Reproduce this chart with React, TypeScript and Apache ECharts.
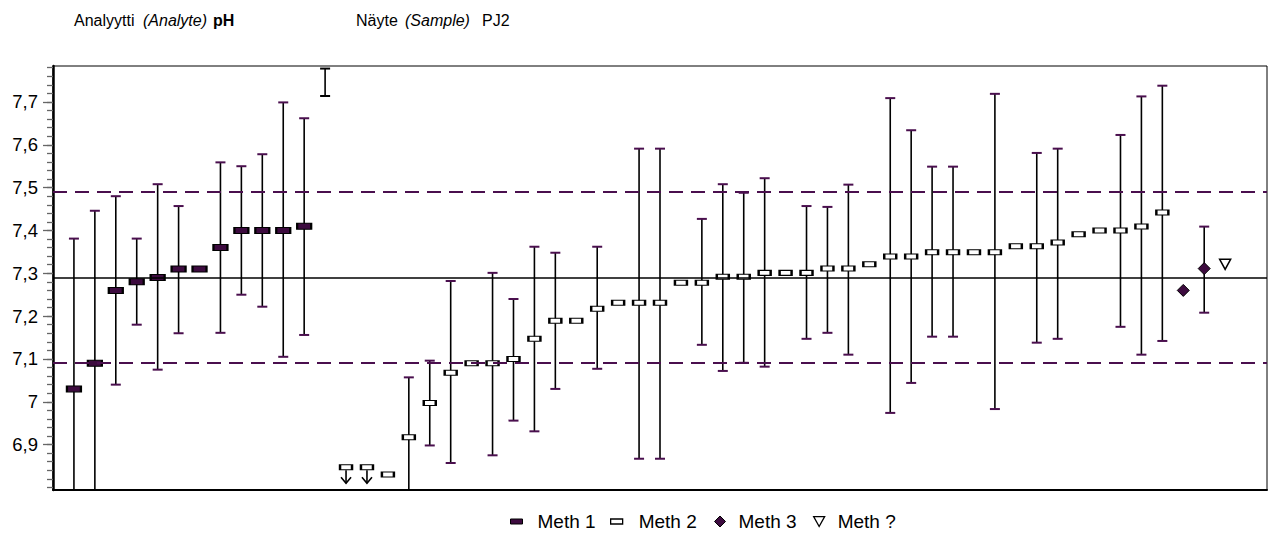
import React, { useEffect, useRef } from 'react';
import * as echarts from 'echarts';

const FONT = '"Liberation Sans", Arial, Helvetica, sans-serif';
const PURPLE = '#4a0f4e';
const FILL1 = '#3d0b3f';

// reference values
const ASSIGNED = 7.29;
const LOWER_LIMIT = 7.09;
const UPPER_LIMIT = 7.49;

// axis
const Y_MIN = 6.794;
const Y_MAX = 7.784;
const X_MAX = 58;
const Y_LABEL_MIN = 6.9;
const Y_LABEL_MAX = 7.7;
const Y_MINOR_MIN = 6.8;
const Y_MINOR_MAX = 7.78;

// results (lab order number = position in sequence)
const meth1Labs = [1, 2, 3, 4, 5, 6, 7, 8, 9, 10, 11, 12];
const meth1Values = [7.03, 7.09, 7.26, 7.28, 7.29, 7.31, 7.31, 7.36, 7.4, 7.4, 7.4, 7.41];

const meth2Labs = [14, 15, 16, 17, 18, 19, 20, 21, 22, 23, 24, 25, 26, 27, 28, 29, 30, 31, 32, 33, 34, 35, 36, 37, 38, 39, 40, 41, 42, 43, 44, 45, 46, 47, 48, 49, 50, 51, 52, 53];
const meth2Values = [6.847, 6.847, 6.83, 6.917, 6.997, 7.068, 7.09, 7.09, 7.1, 7.147, 7.189, 7.189, 7.217, 7.231, 7.231, 7.231, 7.278, 7.278, 7.292, 7.292, 7.301, 7.301, 7.301, 7.311, 7.311, 7.321, 7.339, 7.339, 7.349, 7.349, 7.349, 7.349, 7.363, 7.363, 7.372, 7.391, 7.4, 7.4, 7.409, 7.442];

const meth3Labs = [54, 55];
const meth3Values = [7.26, 7.311];

const methUnknownLabs = [56];
const methUnknownValues = [7.321];

// "<" results (below reporting limit)
const belowLimitLabs = [14, 15];
const belowLimitValues = [6.847, 6.847];
const ARROW_END = 6.81;

// uncertainty ranges
const errorLabs = [1, 2, 3, 4, 5, 6, 8, 9, 10, 11, 12, 17, 18, 19, 21, 22, 23, 24, 26, 28, 29, 31, 32, 33, 34, 36, 37, 38, 40, 41, 42, 43, 45, 47, 48, 51, 52, 53, 55];
const errorLow = [6.68, 6.74, 7.04, 7.18, 7.075, 7.16, 7.161, 7.25, 7.222, 7.105, 7.156, 6.78, 6.898, 6.857, 6.875, 6.956, 6.931, 7.03, 7.077, 6.867, 6.867, 7.133, 7.072, 7.091, 7.082, 7.147, 7.161, 7.11, 6.974, 7.044, 7.152, 7.152, 6.983, 7.138, 7.147, 7.175, 7.11, 7.142, 7.208];
const errorHigh = [7.381, 7.446, 7.48, 7.381, 7.508, 7.457, 7.559, 7.55, 7.578, 7.699, 7.662, 7.057, 7.096, 7.282, 7.301, 7.24, 7.362, 7.348, 7.362, 7.591, 7.591, 7.427, 7.508, 7.488, 7.522, 7.457, 7.455, 7.507, 7.709, 7.634, 7.549, 7.549, 7.719, 7.581, 7.591, 7.623, 7.713, 7.738, 7.409];

// range without a plotted result
const rangeOnlyLabs = [13];
const rangeOnlyLow = [7.714];
const rangeOnlyHigh = [7.778];

const GRID_LEFT = 53;
const GRID_TOP = 66;
const GRID_H = 424;
const GRID_RIGHT = 6;
const pix = (v: number) => GRID_TOP + ((Y_MAX - v) * GRID_H) / (Y_MAX - Y_MIN);

const TRI = 'path://M0,0L10,0L5,9Z';

function errorRenderer(capColor: string) {
  return (params: any, api: any) => {
    const x = api.value(0);
    const top = api.coord([x, api.value(2)]);
    const bot = api.coord([x, api.value(1)]);
    const c = 5;
    return {
      type: 'group',
      children: [
        { type: 'line', shape: { x1: top[0], y1: top[1], x2: bot[0], y2: bot[1] }, style: { stroke: '#000', lineWidth: 1.6 } },
        { type: 'line', shape: { x1: top[0] - c, y1: top[1], x2: top[0] + c, y2: top[1] }, style: { stroke: capColor, lineWidth: 2 } },
        { type: 'line', shape: { x1: bot[0] - c, y1: bot[1], x2: bot[0] + c, y2: bot[1] }, style: { stroke: capColor, lineWidth: 2 } },
      ],
    };
  };
}

function arrowRenderer(params: any, api: any) {
  const x = api.value(0);
  const p0 = api.coord([x, api.value(1)]);
  const p1 = api.coord([x, api.value(2)]);
  return {
    type: 'group',
    children: [
      { type: 'line', shape: { x1: p0[0], y1: p0[1] + 3, x2: p1[0], y2: p1[1] }, style: { stroke: '#000', lineWidth: 1.6 } },
      { type: 'polyline', shape: { points: [[p1[0] - 5, p1[1] - 6], [p1[0], p1[1]], [p1[0] + 5, p1[1] - 6]] }, style: { stroke: '#000', lineWidth: 1.6, fill: 'none' } },
    ],
  };
}

const fmt = (v: number) => String(Number(v.toFixed(1))).replace('.', ',');

export default function App() {
  const ref = useRef<HTMLDivElement>(null);
  useEffect(() => {
    if (!ref.current) return;
    const chart = echarts.init(ref.current, undefined, { renderer: 'svg' });
    const legendText = { fontSize: 19, fontFamily: FONT, color: '#000' };
    const titleY = 20;
    const tText = (x: number, text: string, extra: any = {}) => ({
      type: 'text',
      x,
      y: titleY,
      style: { text, fontSize: 16, fontFamily: FONT, fill: '#000', verticalAlign: 'middle', ...extra },
    });
    chart.setOption({
      animation: false,
      backgroundColor: '#fff',
      grid: [
        { left: GRID_LEFT, right: GRID_RIGHT, top: GRID_TOP, height: GRID_H, show: true, borderColor: '#000', borderWidth: 1, backgroundColor: 'transparent' },
        { left: GRID_LEFT, right: GRID_RIGHT, top: pix(Y_LABEL_MAX), height: pix(Y_LABEL_MIN) - pix(Y_LABEL_MAX) },
        { left: GRID_LEFT, right: GRID_RIGHT, top: pix(Y_MINOR_MAX), height: pix(Y_MINOR_MIN) - pix(Y_MINOR_MAX) },
      ],
      xAxis: [
        { type: 'value', gridIndex: 0, min: 0, max: X_MAX, axisLine: { show: true, onZero: false, lineStyle: { color: '#000', width: 2 } }, axisTick: { show: false }, axisLabel: { show: false }, splitLine: { show: false } },
        { type: 'value', gridIndex: 1, min: 0, max: 1, show: false },
        { type: 'value', gridIndex: 2, min: 0, max: 1, show: false },
      ],
      yAxis: [
        { type: 'value', gridIndex: 0, min: Y_MIN, max: Y_MAX, axisLine: { show: true, onZero: false, lineStyle: { color: '#000', width: 2.5 } }, axisTick: { show: false }, axisLabel: { show: false }, splitLine: { show: false } },
        {
          type: 'value', gridIndex: 1, min: Y_LABEL_MIN, max: Y_LABEL_MAX, interval: 0.1,
          axisLine: { show: false }, splitLine: { show: false },
          axisTick: { show: true, length: 10, lineStyle: { color: '#666', width: 1.3 } },
          axisLabel: { margin: 15, fontSize: 18.5, fontFamily: FONT, color: '#000', formatter: fmt },
        },
        {
          type: 'value', gridIndex: 2, min: Y_MINOR_MIN, max: Y_MINOR_MAX, interval: 0.02,
          axisLine: { show: false }, splitLine: { show: false },
          axisTick: { show: true, length: 6, lineStyle: { color: '#666', width: 1.3 } },
          axisLabel: { show: false },
        },
      ],
      legend: [
        { left: 510, top: 512, padding: 0, selectedMode: false, itemWidth: 12, itemHeight: 5, textStyle: { ...legendText, padding: [0, 0, 0, 10] }, data: [{ name: 'Meth 1', icon: 'rect', itemStyle: { color: FILL1, borderColor: '#000', borderWidth: 1 } }] },
        { left: 610, top: 512, padding: 0, selectedMode: false, itemWidth: 12, itemHeight: 5, textStyle: { ...legendText, padding: [0, 0, 0, 11] }, data: [{ name: 'Meth 2', icon: 'rect', itemStyle: { color: '#fff', borderColor: '#000', borderWidth: 1.3 } }] },
        { left: 714, top: 512, padding: 0, selectedMode: false, itemWidth: 11, itemHeight: 11, textStyle: { ...legendText, padding: [0, 0, 0, 8] }, data: [{ name: 'Meth 3', icon: 'diamond', itemStyle: { color: FILL1, borderColor: '#000', borderWidth: 1 } }] },
        { left: 813, top: 512, padding: 0, selectedMode: false, itemWidth: 11, itemHeight: 10, textStyle: { ...legendText, padding: [0, 0, 0, 8] }, data: [{ name: 'Meth ?', icon: TRI, itemStyle: { color: '#fff', borderColor: '#000', borderWidth: 1.3 } }] },
      ],
      graphic: [
        tText(74, 'Analyytti'),
        tText(143, '(Analyte)', { fontStyle: 'italic' }),
        tText(213, 'pH', { fontWeight: 'bold' }),
        tText(356, 'Näyte'),
        tText(405, '(Sample)', { fontStyle: 'italic' }),
        tText(482, 'PJ2'),
      ],
      series: [
        {
          type: 'line', name: 'ref', data: [], xAxisIndex: 0, yAxisIndex: 0, z: 1,
          markLine: {
            silent: true, symbol: 'none', label: { show: false }, animation: false,
            data: [
              { yAxis: ASSIGNED, lineStyle: { color: '#000', width: 1.5, type: 'solid' } },
              { yAxis: UPPER_LIMIT, lineStyle: { color: PURPLE, width: 2, type: [14, 8] } },
              { yAxis: LOWER_LIMIT, lineStyle: { color: PURPLE, width: 2, type: [14, 8] } },
            ],
          },
        },
        {
          type: 'custom', name: 'range', xAxisIndex: 0, yAxisIndex: 0, z: 2, clip: true,
          renderItem: errorRenderer(PURPLE),
          encode: { x: 0, y: [1, 2] },
          data: errorLabs.map((l, i) => [l, errorLow[i], errorHigh[i]]),
        },
        {
          type: 'custom', name: 'rangeOnly', xAxisIndex: 0, yAxisIndex: 0, z: 2, clip: true,
          renderItem: errorRenderer('#000'),
          encode: { x: 0, y: [1, 2] },
          data: rangeOnlyLabs.map((l, i) => [l, rangeOnlyLow[i], rangeOnlyHigh[i]]),
        },
        {
          type: 'custom', name: 'below', xAxisIndex: 0, yAxisIndex: 0, z: 2, clip: true,
          renderItem: arrowRenderer,
          encode: { x: 0, y: [1, 2] },
          data: belowLimitLabs.map((l, i) => [l, belowLimitValues[i], ARROW_END]),
        },
        {
          type: 'scatter', name: 'Meth 1', z: 4, symbol: 'rect', symbolSize: [14, 6],
          itemStyle: { color: FILL1, borderColor: '#000', borderWidth: 1.5, opacity: 1 },
          data: meth1Labs.map((l, i) => [l, meth1Values[i]]),
        },
        {
          type: 'scatter', name: 'Meth 2', z: 4, symbol: 'rect', symbolSize: [12, 5],
          itemStyle: { color: '#fff', borderColor: '#000', borderWidth: 1.6, opacity: 1 },
          data: meth2Labs.map((l, i) => [l, meth2Values[i]]),
        },
        {
          type: 'scatter', name: 'Meth 3', z: 4, symbol: 'diamond', symbolSize: [12, 12],
          itemStyle: { color: FILL1, borderColor: '#000', borderWidth: 1, opacity: 1 },
          data: meth3Labs.map((l, i) => [l, meth3Values[i]]),
        },
        {
          type: 'scatter', name: 'Meth ?', z: 4, symbol: TRI, symbolSize: [11, 10],
          itemStyle: { color: '#fff', borderColor: '#000', borderWidth: 1.5, opacity: 1 },
          data: methUnknownLabs.map((l, i) => [l, methUnknownValues[i]]),
        },
      ],
    });
    return () => chart.dispose();
  }, []);
  return <div ref={ref} style={{ position: 'absolute', left: 0, top: 0, width: 1273, height: 537 }} />;
}
